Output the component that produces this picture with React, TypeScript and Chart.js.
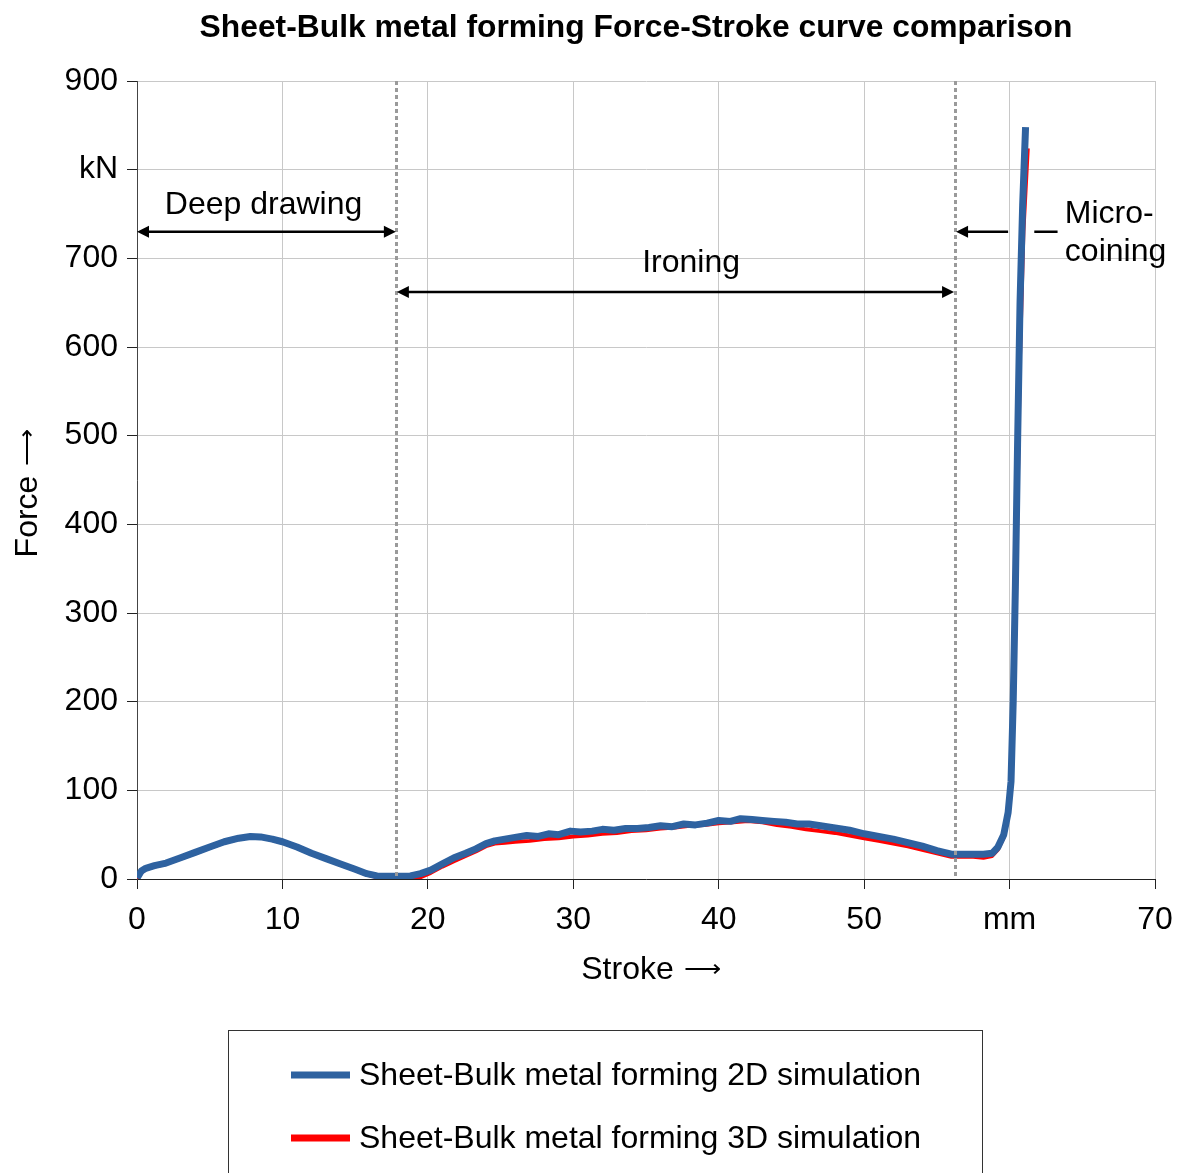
import React, { useEffect, useRef } from "react";
import { Chart, registerables } from "chart.js";

Chart.register(...registerables);

const FONT = '"Liberation Sans", Arial, Helvetica, sans-serif';
const FONT_SIZE = 32;

const TITLE = "Sheet-Bulk metal forming Force-Stroke curve comparison";
const X_TITLE = "Stroke";
const Y_TITLE = "Force";
const AXIS_ARROW = "\u27F6";

// Axis ranges and tick labels (unit labels replace one tick on each axis)
const X_MIN = 0;
const X_MAX = 70;
const X_STEP = 10;
const Y_MIN = 0;
const Y_MAX = 900;
const Y_STEP = 100;
const X_UNIT_TICK = 60;
const X_UNIT_LABEL = "mm";
const Y_UNIT_TICK = 800;
const Y_UNIT_LABEL = "kN";

// Process stage boundaries (stroke, mm)
const DEEP_DRAWING_END = 17.8;
const IRONING_END = 56.25;

const SERIES_LABELS = [
  "Sheet-Bulk metal forming 2D simulation",
  "Sheet-Bulk metal forming 3D simulation",
];

// 2D simulation: stroke (mm) / force (kN)
const stroke2D = [
  0, 0.3, 0.6, 1.2, 2, 3, 4, 5, 6, 7, 7.8, 8.5, 9.3, 10, 11, 12, 13, 14, 15,
  15.8, 16.5, 17.2, 18, 18.8, 19.5, 20.2, 21, 21.8, 22.6, 23.3, 24, 24.6, 25.3,
  26, 26.8, 27.6, 28.3, 29, 29.8, 30.5, 31.3, 32, 32.8, 33.6, 34.4, 35.2, 36,
  36.8, 37.6, 38.4, 39.2, 40, 40.8, 41.5, 42.3, 43, 43.8, 44.6, 45.4, 46.2, 47,
  48, 49, 50, 51, 52, 53, 54, 55, 56, 56.8, 57.5, 58.2, 58.8, 59.2, 59.6, 59.9,
  60.1, 60.25, 60.4, 60.55, 60.72, 60.9, 61.1,
];
const force2D = [
  1, 9, 12, 15, 18, 24, 30, 36, 42, 46, 48, 47.5, 45, 42, 36, 29, 23, 17, 11,
  6, 3.5, 3, 3, 3.5, 6, 10, 17, 24, 29, 34, 40, 43, 45, 47, 49, 48, 51, 50, 54,
  53, 54, 56, 55, 57, 57, 58, 60, 59, 62, 61, 63, 66, 65, 68, 67, 66, 65, 64,
  62, 62, 60, 57.5, 55, 51, 48, 45, 41, 37, 32, 28, 28, 28, 28, 29, 36, 50, 75,
  110, 200, 330, 490, 650, 760, 848,
];

// 3D simulation: stroke (mm) / force (kN)
const stroke3D = [
  0, 0.3, 0.6, 1.2, 2, 3, 4, 5, 6, 7, 7.8, 8.5, 9.3, 10, 11, 12, 13, 14, 15,
  15.8, 16.5, 17.2, 18, 18.8, 19.5, 20.2, 21, 21.8, 22.6, 23.3, 24, 24.6, 25.3,
  26, 27, 28, 29, 30, 31, 32, 33, 34, 35, 36, 37, 38, 39, 40, 41, 42, 43, 44,
  45, 46, 47, 48, 49, 50, 51, 52, 53, 54, 55, 56, 56.8, 57.5, 58.2, 58.8, 59.2,
  59.6, 59.9, 60.1, 60.3, 60.5, 60.7, 60.95, 61.25,
];
const force3D = [
  0, 7, 11, 14, 17, 23, 29, 35, 41, 45, 47, 47, 44, 41, 35, 28, 22, 16, 10, 5,
  2, -1, -2, -1.5, 2, 7, 14, 20, 26, 31, 37, 40, 41, 42, 43, 45, 46, 48, 49, 51,
  52, 54, 55, 57, 58, 60, 61, 63, 64, 65.5, 64, 61, 59, 56, 54, 52, 49, 46, 43,
  40, 37, 33, 29, 25, 25, 25, 24, 26, 33, 47, 72, 105, 200, 380, 580, 730, 824,
];

const COLOR_2D = "#2e62a0";
const COLOR_3D = "#ff0000";

const toPoints = (xs: number[], ys: number[]) =>
  xs.map((x, i) => ({ x, y: ys[i] }));

function arrowHead(ctx: CanvasRenderingContext2D, x: number, y: number, dir: number) {
  const len = 12;
  const half = 6;
  ctx.beginPath();
  ctx.moveTo(x, y);
  ctx.lineTo(x - dir * len, y - half);
  ctx.lineTo(x - dir * len, y + half);
  ctx.closePath();
  ctx.fill();
}

// Axis title followed by a slightly smaller long arrow, centred on (cx, y)
function axisTitle(ctx: CanvasRenderingContext2D, text: string, cx: number, y: number) {
  ctx.font = `${FONT_SIZE}px ${FONT}`;
  const wText = ctx.measureText(text).width;
  ctx.font = `26px ${FONT}`;
  const wArrow = ctx.measureText(AXIS_ARROW).width;
  const gap = 10;
  const start = cx - (wText + gap + wArrow) / 2;
  ctx.textAlign = "left";
  ctx.font = `${FONT_SIZE}px ${FONT}`;
  ctx.fillText(text, start, y);
  ctx.font = `26px ${FONT}`;
  ctx.fillText(AXIS_ARROW, start + wText + gap, y - 2);
}

const annotations = {
  id: "stageAnnotations",
  afterDatasetsDraw(chart: any) {
    const { ctx, chartArea, scales } = chart;
    const xs = scales.x;
    const ys = scales.y;
    ctx.save();

    // stage boundaries
    ctx.strokeStyle = "#9a9a9a";
    ctx.lineWidth = 3;
    ctx.setLineDash([4, 3]);
    for (const s of [DEEP_DRAWING_END, IRONING_END]) {
      const px = Math.round(xs.getPixelForValue(s)) + 0.5;
      ctx.beginPath();
      ctx.moveTo(px, chartArea.top);
      ctx.lineTo(px, chartArea.bottom);
      ctx.stroke();
    }
    ctx.setLineDash([]);

    ctx.strokeStyle = "#000";
    ctx.fillStyle = "#000";
    ctx.lineWidth = 2.5;

    const x0 = xs.getPixelForValue(X_MIN);
    const xd = xs.getPixelForValue(DEEP_DRAWING_END);
    const xi = xs.getPixelForValue(IRONING_END);

    // deep drawing span
    const yDeep = ys.getPixelForValue(730);
    ctx.beginPath();
    ctx.moveTo(x0 + 8, yDeep);
    ctx.lineTo(xd - 8, yDeep);
    ctx.stroke();
    arrowHead(ctx, x0, yDeep, -1);
    arrowHead(ctx, xd, yDeep, 1);

    // ironing span
    const yIron = ys.getPixelForValue(662);
    ctx.beginPath();
    ctx.moveTo(xi - 8, yIron);
    ctx.lineTo(xd + 8, yIron);
    ctx.stroke();
    arrowHead(ctx, xd + 1, yIron, -1);
    arrowHead(ctx, xi - 1, yIron, 1);

    // micro-coining pointer (broken where it crosses the curve)
    ctx.beginPath();
    ctx.moveTo(xi + 8, yDeep);
    ctx.lineTo(xs.getPixelForValue(59.9), yDeep);
    ctx.moveTo(xs.getPixelForValue(61.7), yDeep);
    ctx.lineTo(xs.getPixelForValue(63.3), yDeep);
    ctx.stroke();
    arrowHead(ctx, xi + 1, yDeep, -1);

    ctx.font = `${FONT_SIZE}px ${FONT}`;
    ctx.textBaseline = "alphabetic";
    ctx.textAlign = "center";
    ctx.fillText("Deep drawing", xs.getPixelForValue(8.7), ys.getPixelForValue(750));
    ctx.fillText("Ironing", xs.getPixelForValue(38.1), ys.getPixelForValue(684.5));
    ctx.textAlign = "left";
    ctx.fillText("Micro-", xs.getPixelForValue(63.8), ys.getPixelForValue(740));
    ctx.fillText("coining", xs.getPixelForValue(63.8), ys.getPixelForValue(697));
    ctx.restore();
  },
  afterDraw(chart: any) {
    const { ctx } = chart;
    ctx.save();
    ctx.fillStyle = "#000";

    // chart title
    ctx.font = `bold 31.8px ${FONT}`;
    ctx.textAlign = "center";
    ctx.textBaseline = "alphabetic";
    ctx.fillText(TITLE, 636, 37);

    // axis titles
    axisTitle(ctx, X_TITLE, 651, 979);
    ctx.save();
    ctx.translate(37, 493);
    ctx.rotate(-Math.PI / 2);
    axisTitle(ctx, Y_TITLE, 0, 0);
    ctx.restore();

    // legend box
    ctx.font = `${FONT_SIZE}px ${FONT}`;
    ctx.strokeStyle = "#333";
    ctx.lineWidth = 1;
    ctx.strokeRect(228.5, 1030.5, 754, 200);
    const rows = [1075, 1138];
    chart.data.datasets.forEach((ds: any, i: number) => {
      const y = rows[i];
      ctx.fillStyle = ds.borderColor;
      ctx.fillRect(291, y - 3.5, 59, 7);
      ctx.fillStyle = "#000";
      ctx.textAlign = "left";
      ctx.textBaseline = "middle";
      ctx.fillText(ds.label, 359, y + 1);
    });
    ctx.restore();
  },
};

export default function App() {
  const canvasRef = useRef<HTMLCanvasElement | null>(null);

  useEffect(() => {
    document.body.style.margin = "0";
    document.body.style.overflow = "hidden";
    const canvas = canvasRef.current;
    if (!canvas) return;
    const chart = new Chart(canvas, {
      type: "line",
      data: {
        datasets: [
          {
            label: SERIES_LABELS[0],
            data: toPoints(stroke2D, force2D),
            borderColor: COLOR_2D,
            backgroundColor: COLOR_2D,
            borderWidth: 7,
            pointRadius: 0,
            tension: 0,
            borderJoinStyle: "round",
            borderCapStyle: "butt",
          },
          {
            label: SERIES_LABELS[1],
            data: toPoints(stroke3D, force3D),
            borderColor: COLOR_3D,
            backgroundColor: COLOR_3D,
            borderWidth: 4,
            pointRadius: 0,
            tension: 0,
            borderJoinStyle: "round",
          },
        ],
      },
      options: {
        animation: false,
        responsive: false,
        layout: { padding: { left: 0, right: 24, top: 81, bottom: 234 } },
        plugins: {
          legend: { display: false },
          title: { display: false },
          tooltip: { enabled: false },
        },
        scales: {
          x: {
            type: "linear",
            min: X_MIN,
            max: X_MAX,
            ticks: {
              stepSize: X_STEP,
              color: "#000",
              padding: 12,
              font: { family: FONT, size: FONT_SIZE },
              callback: (v: any) => (v === X_UNIT_TICK ? X_UNIT_LABEL : String(v)),
            },
            grid: { color: "#c8c8c8", tickColor: "#222", tickLength: 10, lineWidth: 1 },
            border: { color: "#222", width: 1 },
            afterFit: (s: any) => {
              s.height = 60;
              s.paddingLeft = 0;
              s.paddingRight = 0;
            },
          },
          y: {
            type: "linear",
            min: Y_MIN,
            max: Y_MAX,
            ticks: {
              stepSize: Y_STEP,
              color: "#000",
              padding: 9,
              font: { family: FONT, size: FONT_SIZE },
              callback: (v: any) => (v === Y_UNIT_TICK ? Y_UNIT_LABEL : String(v)),
            },
            grid: { color: "#c8c8c8", tickColor: "#222", tickLength: 10, lineWidth: 1 },
            border: { color: "#444", width: 1 },
            afterFit: (s: any) => {
              s.width = 137;
              s.paddingTop = 0;
              s.paddingBottom = 0;
            },
          },
        },
      },
      plugins: [annotations],
    });
    return () => chart.destroy();
  }, []);

  return (
    <div style={{ width: 1179, height: 1173, background: "#fff" }}>
      <canvas ref={canvasRef} width={1179} height={1173} style={{ display: "block" }} />
    </div>
  );
}
